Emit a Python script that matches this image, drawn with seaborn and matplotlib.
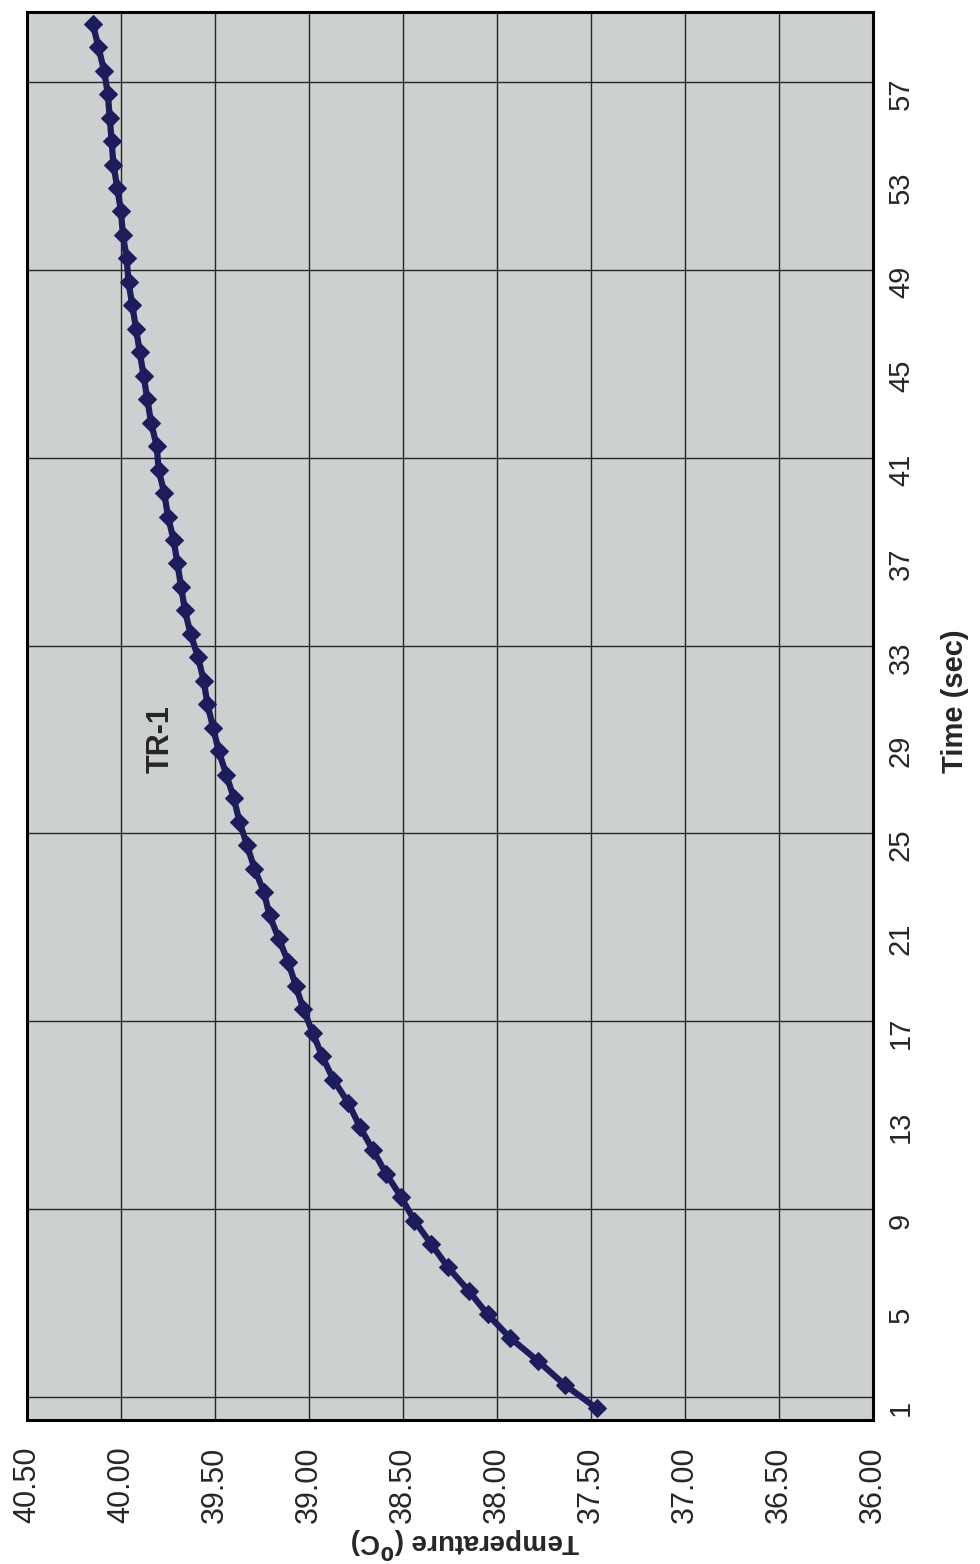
import numpy as np
import seaborn as sb
from matplotlib import pyplot as plt

# TR-1 temperature reading, one point per second
time_sec = list(range(1, 61))
temperature = [37.47, 37.64, 37.78, 37.93, 38.05, 38.15, 38.26, 38.35, 38.44, 38.51,
               38.59, 38.66, 38.73, 38.79, 38.87, 38.93, 38.98, 39.03, 39.07, 39.11,
               39.16, 39.21, 39.24, 39.29, 39.33, 39.37, 39.40, 39.44, 39.48, 39.51,
               39.54, 39.56, 39.59, 39.63, 39.66, 39.68, 39.70, 39.72, 39.75, 39.77,
               39.80, 39.81, 39.84, 39.86, 39.88, 39.90, 39.92, 39.94, 39.96, 39.97,
               39.99, 40.00, 40.02, 40.04, 40.05, 40.06, 40.07, 40.09, 40.12, 40.15]
temp_ticks = [36.0, 36.5, 37.0, 37.5, 38.0, 38.5, 39.0, 39.5, 40.0, 40.5]
time_ticks = list(range(1, 58, 4))
time_grid = [1.5, 9.5, 17.5, 25.5, 33.5, 41.5, 49.5, 57.5]

sb.set_style('white')
plt.rcParams['font.family'] = ['Liberation Sans', 'DejaVu Sans']

fig = plt.figure(figsize=(9.8, 15.64), dpi=100)
fig.patch.set_facecolor('white')
ax = fig.add_axes([27 / 980, 1 - 1420 / 1564, 846 / 980, 1408 / 1564])
ax.set_facecolor('#cdd0d0')

# chart is drawn turned on its side: time runs upward, temperature leftward
sb.lineplot(x=temperature, y=time_sec, orient='y', sort=False, ax=ax,
            color='#1d1d5e', linewidth=4.5, marker='D', markersize=9.5,
            markeredgecolor='#1d1d5e')

ax.set_xlim(40.5, 36.0)
ax.set_ylim(0.5, 60.5)

ax.set_xticks(temp_ticks)
ax.set_xticklabels([f'{v:.2f}' for v in temp_ticks], rotation=90, fontsize=22)
ax.yaxis.tick_right()
ax.set_yticks(time_ticks)
ax.set_yticklabels([str(t) for t in time_ticks], rotation=90, fontsize=21,
                   va='center')
ax.set_yticks(time_grid, minor=True)
ax.tick_params(axis='both', which='both', length=0)
ax.tick_params(axis='x', pad=19)
ax.tick_params(axis='y', pad=10)

ax.grid(False)
ax.grid(True, which='major', axis='x', color='#262626', linewidth=1.0)
ax.grid(True, which='minor', axis='y', color='#262626', linewidth=1.0)
for s in ax.spines.values():
    s.set_visible(True)
    s.set_color('black')
    s.set_linewidth(2.2)

ax.set_xlabel('Temperature (' + r'$^{\mathbf{0}}$' + 'C)', rotation=180,
              fontsize=20, fontweight='bold', va='top', ha='center')
ax.xaxis.set_label_coords((465 - 27) / 846, (1420 - 1525) / 1408)
ax.yaxis.set_label_position('right')
ax.set_ylabel('Time (sec)', rotation=90, fontsize=21, fontweight='bold',
              va='center', ha='center')
ax.yaxis.set_label_coords((955 - 27) / 846, (1420 - 701) / 1408)

ax.text(39.79, 29.5, 'TR-1', rotation=90, ha='center', va='center',
        fontsize=22, fontweight='bold')

fig.savefig('out.png', dpi=100)
